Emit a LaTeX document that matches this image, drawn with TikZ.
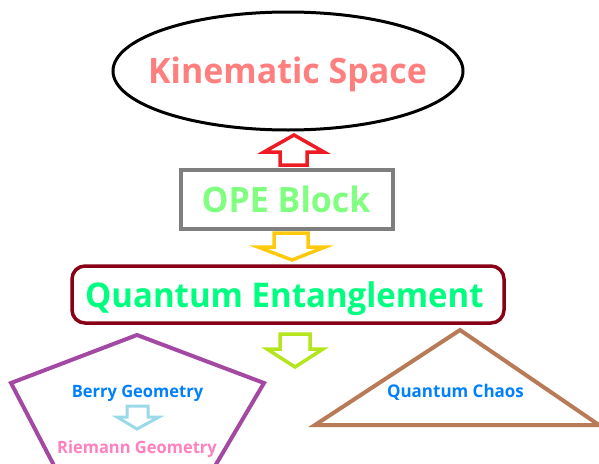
\documentclass[tikz,border=0pt]{standalone}
\usepackage{fontspec}
\setmainfont{Open Sans}[FakeStretch=0.97]
\definecolor{kin}{HTML}{FF7F7F}
\definecolor{ope}{HTML}{80FF80}
\definecolor{qe}{HTML}{00FF80}
\definecolor{qeline}{HTML}{880015}
\definecolor{berry}{HTML}{0080FF}
\definecolor{riem}{HTML}{FF80C0}
\definecolor{pent}{HTML}{A349A4}
\definecolor{tri}{HTML}{B97A57}
\definecolor{arred}{HTML}{ED1C24}
\definecolor{aryel}{HTML}{FFC90E}
\definecolor{argrn}{HTML}{B5E61D}
\definecolor{arblu}{HTML}{99D9EA}
\definecolor{opeline}{HTML}{7F7F7F}
\tikzset{
  lbl/.style={anchor=base, inner sep=0pt, font=\bfseries},
  barrow/.style={line width=3.5pt, line join=miter, fill=white, draw=#1},
}
\begin{document}
\begin{tikzpicture}[x=1pt,y=-1pt]
\useasboundingbox (0,0) rectangle (599,463);
\clip (0,0) rectangle (599,463);
% shapes
\draw[line width=3pt] (288,71) ellipse [x radius=175, y radius=59];
\draw[line width=4pt, draw=opeline] (181,170) rectangle (393,229);
\draw[line width=3.5pt, draw=qeline, rounded corners=13pt] (72,266) rectangle (504,323);
\draw[line width=4pt, draw=pent, line join=miter] (137,335) -- (264,383) -- (195,500) -- (72,500) -- (11,383) -- cycle;
\draw[line width=4pt, draw=tri, line join=miter] (460,330) -- (599,425) -- (315,425) -- cycle;
% block arrows
\draw[barrow=arred] (294,135) -- (324,152) -- (307,152) -- (307,165) -- (280,165) -- (280,152) -- (264,152) -- cycle;
\draw[barrow=aryel] (292,260) -- (325,247) -- (308,247) -- (308,233) -- (274,233) -- (274,247) -- (258,247) -- cycle;
\draw[barrow=argrn] (295,367) -- (323,349) -- (310,349) -- (310,334) -- (280,334) -- (280,349) -- (267,349) -- cycle;
\draw[barrow=arblu, line width=3pt] (137,429) -- (159,417) -- (148,417) -- (148,406) -- (127,406) -- (127,417) -- (117,417) -- cycle;
% labels
\node[lbl, text=kin, font=\fontsize{35}{40}\selectfont\bfseries] (kin) at (287.5,83) {Kinematic Space};
\node[lbl, text=ope, font=\fontsize{35}{40}\selectfont\bfseries] (ope) at (286,212) {OPE Block};
\node[lbl, text=qe, font=\fontsize{34}{40}\selectfont\bfseries] (qe) at (284.5,307) {Quantum Entanglement};
\node[lbl, text=berry, font=\fontsize{17}{20}\selectfont\bfseries] (berry) at (137.5,397) {Berry Geometry};
\node[lbl, text=riem, font=\fontsize{17}{20}\selectfont\bfseries] (riem) at (137,453) {Riemann Geometry};
\node[lbl, text=berry, font=\fontsize{17.5}{20}\selectfont\bfseries] (chaos) at (455.5,397) {Quantum Chaos};
\end{tikzpicture}
\end{document}
